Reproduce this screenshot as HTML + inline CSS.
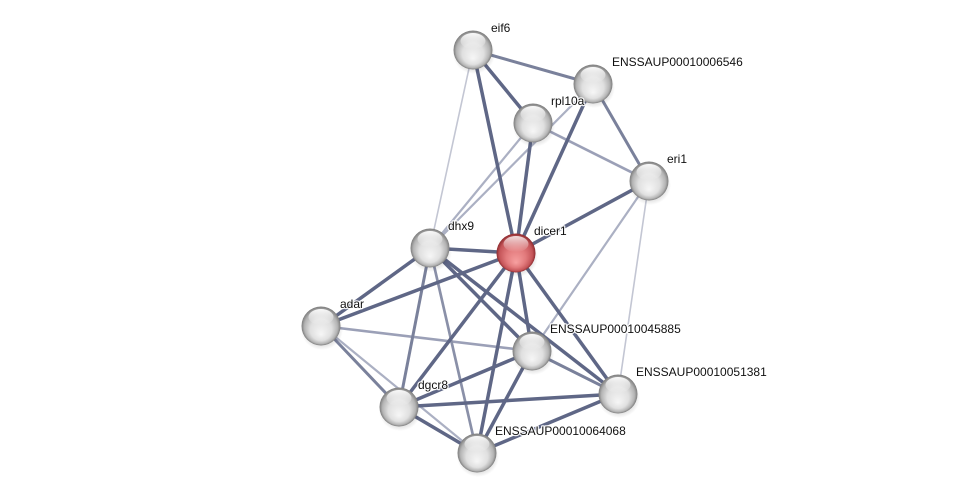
<!DOCTYPE html>
<html><head><meta charset="utf-8"><style>
html,body{margin:0;padding:0;background:#fff;width:975px;height:498px;overflow:hidden}
svg{display:block}
text{font-family:"Liberation Sans",Arial,sans-serif;font-size:12px;fill:#111;stroke:#fff;stroke-width:2.5px;stroke-opacity:0.9;paint-order:stroke;stroke-linejoin:round}
</style></head><body>
<svg width="975" height="498" viewBox="0 0 975 498" xmlns="http://www.w3.org/2000/svg">
<defs>
<radialGradient id="gg" cx="50%" cy="50%" r="50%" fx="50%" fy="72%">
<stop offset="0%" stop-color="#f6f6f6"/>
<stop offset="55%" stop-color="#e0e0e0"/>
<stop offset="85%" stop-color="#b4b4b4"/>
<stop offset="100%" stop-color="#7c7c7c"/>
</radialGradient>
<radialGradient id="rg" cx="50%" cy="50%" r="50%" fx="50%" fy="75%">
<stop offset="0%" stop-color="#f7a0a0"/>
<stop offset="50%" stop-color="#e27a7c"/>
<stop offset="85%" stop-color="#c45458"/>
<stop offset="100%" stop-color="#8e2c30"/>
</radialGradient>
<linearGradient id="hl" x1="0" y1="0" x2="0" y2="1">
<stop offset="0%" stop-color="#fff" stop-opacity="0.95"/>
<stop offset="100%" stop-color="#fff" stop-opacity="0"/>
</linearGradient>
<radialGradient id="sh" cx="50%" cy="50%" r="50%">
<stop offset="60%" stop-color="#000" stop-opacity="0.18"/>
<stop offset="100%" stop-color="#000" stop-opacity="0"/>
</radialGradient>
</defs>
<g stroke-linecap="butt" fill="none">
<g stroke="#c3c6d3" stroke-width="1.6">
<line x1="473" y1="50" x2="430" y2="248"/>
<line x1="649" y1="181" x2="618" y2="394"/>
</g>
<g stroke="#abb0c3" stroke-width="2.2">
<line x1="593" y1="84" x2="430" y2="248"/>
<line x1="533" y1="123" x2="430" y2="248"/>
<line x1="649" y1="181" x2="532" y2="351"/>
<line x1="322" y1="326" x2="477" y2="453"/>
</g>
<g stroke="#9ba0b7" stroke-width="2.6">
<line x1="533" y1="123" x2="649" y2="181"/>
<line x1="322" y1="326" x2="532" y2="351"/>
</g>
<g stroke="#7a819b" stroke-width="3">
<line x1="473" y1="50" x2="593" y2="84"/>
<line x1="593" y1="84" x2="649" y2="181"/>
<line x1="430" y1="248" x2="399" y2="407"/>
<line x1="322" y1="326" x2="399" y2="407"/>
<line x1="532" y1="351" x2="618" y2="394"/>
</g>
<g stroke="#8a90a8" stroke-width="2.7">
<line x1="430" y1="248" x2="477" y2="453"/>
</g>
<g stroke="#5f6786" stroke-width="3.5">
<line x1="473" y1="50" x2="533" y2="123"/>
<line x1="473" y1="50" x2="516" y2="253"/>
<line x1="593" y1="84" x2="516" y2="253"/>
<line x1="533" y1="123" x2="516" y2="253"/>
<line x1="649" y1="181" x2="516" y2="253"/>
<line x1="430" y1="248" x2="516" y2="253"/>
<line x1="430" y1="248" x2="322" y2="326"/>
<line x1="430" y1="248" x2="532" y2="351"/>
<line x1="430" y1="248" x2="618" y2="394"/>
<line x1="516" y1="253" x2="322" y2="326"/>
<line x1="516" y1="253" x2="399" y2="407"/>
<line x1="516" y1="253" x2="477" y2="453"/>
<line x1="516" y1="253" x2="532" y2="351"/>
<line x1="516" y1="253" x2="618" y2="394"/>
<line x1="399" y1="407" x2="532" y2="351"/>
<line x1="399" y1="407" x2="618" y2="394"/>
<line x1="399" y1="407" x2="477" y2="453"/>
<line x1="532" y1="351" x2="477" y2="453"/>
<line x1="618" y1="394" x2="477" y2="453"/>
</g>
</g>

<g id="nodes">
<g transform="translate(473,50)"><ellipse cx="1" cy="4" rx="21" ry="20" fill="url(#sh)"/><circle r="19.5" fill="url(#gg)"/><ellipse cx="0" cy="-9" rx="12.5" ry="8" fill="url(#hl)"/></g>
<g transform="translate(593,84)"><ellipse cx="1" cy="4" rx="21" ry="20" fill="url(#sh)"/><circle r="19.5" fill="url(#gg)"/><ellipse cx="0" cy="-9" rx="12.5" ry="8" fill="url(#hl)"/></g>
<g transform="translate(533,123)"><ellipse cx="1" cy="4" rx="21" ry="20" fill="url(#sh)"/><circle r="19.5" fill="url(#gg)"/><ellipse cx="0" cy="-9" rx="12.5" ry="8" fill="url(#hl)"/></g>
<g transform="translate(649,181)"><ellipse cx="1" cy="4" rx="21" ry="20" fill="url(#sh)"/><circle r="19.5" fill="url(#gg)"/><ellipse cx="0" cy="-9" rx="12.5" ry="8" fill="url(#hl)"/></g>
<g transform="translate(430,248)"><ellipse cx="1" cy="4" rx="21" ry="20" fill="url(#sh)"/><circle r="19.5" fill="url(#gg)"/><ellipse cx="0" cy="-9" rx="12.5" ry="8" fill="url(#hl)"/></g>
<g transform="translate(516,253)"><ellipse cx="1" cy="4" rx="21" ry="20" fill="url(#sh)"/><circle r="19.5" fill="url(#rg)"/><ellipse cx="0" cy="-9" rx="12.5" ry="8" fill="url(#hl)" opacity="0.85"/></g>
<g transform="translate(321,326)"><ellipse cx="1" cy="4" rx="21" ry="20" fill="url(#sh)"/><circle r="19.5" fill="url(#gg)"/><ellipse cx="0" cy="-9" rx="12.5" ry="8" fill="url(#hl)"/></g>
<g transform="translate(532,351)"><ellipse cx="1" cy="4" rx="21" ry="20" fill="url(#sh)"/><circle r="19.5" fill="url(#gg)"/><ellipse cx="0" cy="-9" rx="12.5" ry="8" fill="url(#hl)"/></g>
<g transform="translate(618,394)"><ellipse cx="1" cy="4" rx="21" ry="20" fill="url(#sh)"/><circle r="19.5" fill="url(#gg)"/><ellipse cx="0" cy="-9" rx="12.5" ry="8" fill="url(#hl)"/></g>
<g transform="translate(399,407)"><ellipse cx="1" cy="4" rx="21" ry="20" fill="url(#sh)"/><circle r="19.5" fill="url(#gg)"/><ellipse cx="0" cy="-9" rx="12.5" ry="8" fill="url(#hl)"/></g>
<g transform="translate(477,453)"><ellipse cx="1" cy="4" rx="21" ry="20" fill="url(#sh)"/><circle r="19.5" fill="url(#gg)"/><ellipse cx="0" cy="-9" rx="12.5" ry="8" fill="url(#hl)"/></g>
</g>

<text x="491" y="32">eif6</text>
<text x="612" y="66">ENSSAUP00010006546</text>
<text x="551" y="105">rpl10a</text>
<text x="667" y="163">eri1</text>
<text x="448" y="230">dhx9</text>
<text x="534" y="235">dicer1</text>
<text x="340" y="308">adar</text>
<text x="550" y="333">ENSSAUP00010045885</text>
<text x="636" y="376">ENSSAUP00010051381</text>
<text x="418" y="389">dgcr8</text>
<text x="495" y="435">ENSSAUP00010064068</text>
</svg>
</body></html>
